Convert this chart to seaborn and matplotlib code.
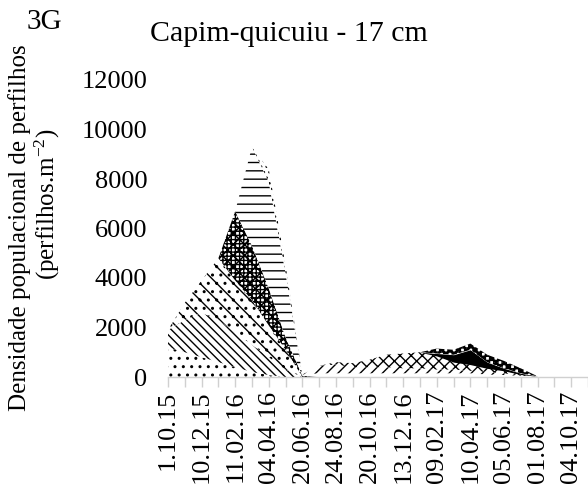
import numpy as np
import matplotlib
matplotlib.use("Agg")
import matplotlib.pyplot as plt
import seaborn as sns

# ---- data ----
tick_labels = ["1.10.15", "10.12.15", "11.02.16", "04.04.16", "20.06.16", "24.08.16",
               "20.10.16", "13.12.16", "09.02.17", "10.04.17", "05.06.17", "01.08.17",
               "04.10.17"]
n_points = 26

s1 = [1200, 1000, 800, 600, 400, 200, 80, 0, 0] + [0] * 17
s2 = [700, 1300, 1800, 1700, 1400, 1100, 720, 300, 0] + [0] * 17
s3 = [0, 700, 1300, 2500, 2100, 1800, 1280, 800, 0] + [0] * 17
s4 = [0, 0, 0, 0, 2800, 2200, 1500, 500, 50] + [0] * 17
s5 = [0, 0, 0, 0, 0, 4000, 4300, 2600, 0] + [0] * 17
s6 = [0, 0, 0, 0, 0, 0, 500, 300, 0] + [0] * 17
s7 = [0] * 8 + [50, 150, 150, 150, 150, 150, 150, 150, 150, 150, 150, 100, 80, 50, 30, 50, 80, 80]
s8 = [0] * 8 + [0, 300, 350, 250, 250, 250, 200, 200, 150, 150, 100, 100, 70, 0, 0, 0, 0, 0]
s9 = [0] * 8 + [0, 0, 100, 160, 300, 500, 600, 650, 550, 300, 250, 150, 100, 50, 0, 0, 0, 0]
s10 = [0] * 8 + [0, 0, 0, 0, 0, 0, 0, 0, 100, 300, 600, 250, 100, 50, 0, 0, 0, 0]
s11 = [0] * 8 + [0, 0, 0, 0, 0, 0, 0, 0, 200, 200, 250, 300, 300, 200, 0, 0, 0, 0]

series = [s1, s2, s3, s4, s5, s6, s7, s8, s9, s10, s11]
hatches = ['..', '\\\\\\\\', '\\\\..', '++++xxx', '--', '...', '--', '///', 'xxx', None, '++++xxxx']
faces = ['white'] * 9 + ['black', 'white']

# ---- style ----
sns.set_theme(style="white")
plt.rcParams['font.family'] = ['Liberation Serif', 'DejaVu Serif']
plt.rcParams['mathtext.fontset'] = 'custom'
plt.rcParams['mathtext.rm'] = 'Liberation Serif'
plt.rcParams['mathtext.it'] = 'Liberation Serif:italic'
plt.rcParams['hatch.linewidth'] = 1.0
plt.rcParams['hatch.color'] = 'black'
plt.rcParams['text.color'] = 'black'
plt.rcParams['xtick.color'] = 'black'
plt.rcParams['ytick.color'] = 'black'

fig = plt.figure(figsize=(5.88, 4.93), dpi=100)
ax = fig.add_axes([168 / 588, (493 - 377) / 493, 1 - 168 / 588, (377 - 80) / 493])

x = np.arange(n_points)
base = np.zeros(n_points)
for vals, h, fc in zip(series, hatches, faces):
    top = base + np.array(vals, dtype=float)
    ax.fill_between(x, base, top, facecolor=fc, edgecolor='black', linewidth=0, hatch=h)
    base = top

ax.set_xlim(0, n_points - 1)
ax.set_ylim(0, 12000)
ax.set_yticks(np.arange(0, 12001, 2000))
ax.set_yticklabels([str(v) for v in range(0, 12001, 2000)], fontsize=19, color='black')
ax.tick_params(axis='y', length=0, pad=15)

ax.set_xticks(x)
labels = []
for i in range(n_points):
    labels.append(tick_labels[i // 2] if i % 2 == 0 and i // 2 < len(tick_labels) else "")
ax.set_xticklabels(labels, rotation=90, fontsize=19, color='black')
ax.tick_params(axis='x', length=7, color='#d0d0d0', labelcolor='black', width=1, pad=3, bottom=True)

sns.despine(ax=ax, left=True, top=True, right=True)
ax.spines['bottom'].set_color('#d0d0d0')
ax.spines['bottom'].set_linewidth(1)
ax.grid(False)

fig.text(289 / 588, 1 - 34 / 493, "Capim-quicuiu - 17 cm", ha='center', va='center',
         fontsize=21.5, color='black')
fig.text(44 / 588, 1 - 22 / 493, "3G", ha='center', va='center', fontsize=21, color='black')
fig.text(20 / 588, 1 - 228 / 493, "Densidade populacional de perfilhos", rotation=90,
         ha='center', va='center', fontsize=18, color='black')
fig.text(47 / 588, 1 - 204 / 493, r"(perfilhos.m$^{\mathrm{-2}}$)", rotation=90,
         ha='center', va='center', fontsize=18, color='black')

fig.savefig("out.png", dpi=100)
